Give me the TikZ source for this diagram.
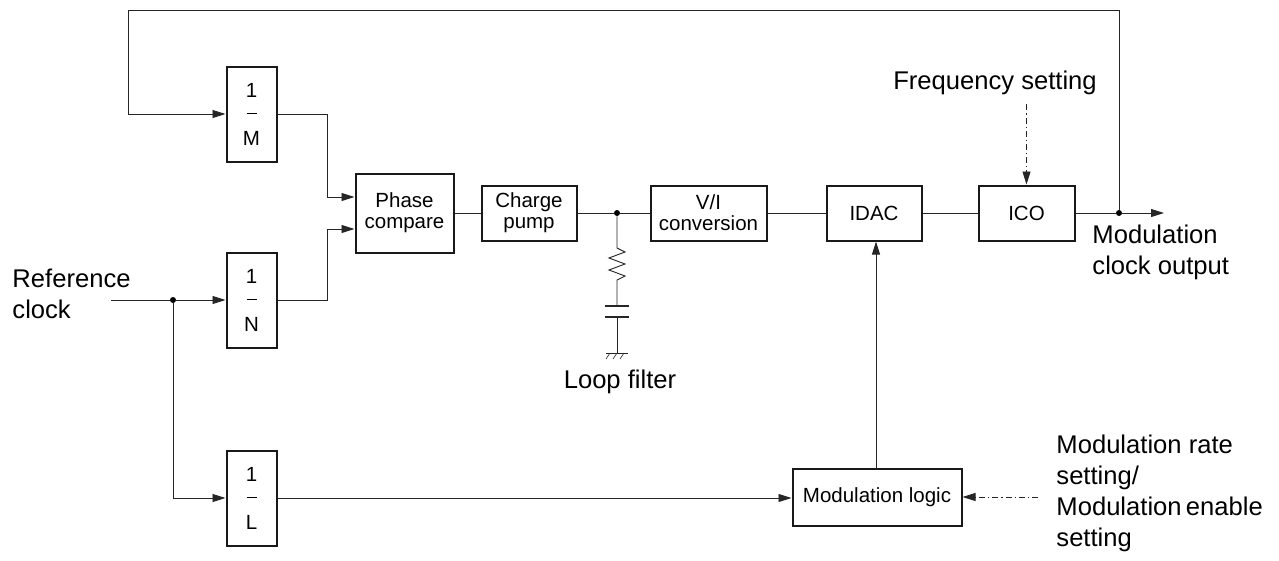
\documentclass[tikz,border=0pt]{standalone}
\usepackage{fontspec}
\setmainfont{Liberation Sans}
\usetikzlibrary{arrows.meta}
\newcommand{\divby}[1]{1\\\rule[7pt]{10pt}{0.9pt}\\#1}
\begin{document}
\begin{tikzpicture}[x=1pt,y=-1pt,line width=0.9pt,draw=black!85,
	block/.style={draw=black!90, line width=2pt, inner sep=0pt, align=center, font=\fontsize{20.5}{21}\selectfont},
	divider/.style={block, minimum width=50pt, minimum height=95pt, font=\fontsize{20.5}{24}\selectfont},
	label/.style={inner sep=0pt, align=left, font=\fontsize{25.6}{31}\selectfont},
	arr/.style={-{Triangle[length=13pt,width=8pt]}},
	dashdot/.style={dash pattern=on 6pt off 3pt on 1.2pt off 3pt},
	dot/.style={circle, fill=black, inner sep=0pt, minimum size=6pt}]
	\useasboundingbox (0,0) rectangle (1279,560);
	% dividers
	\node (M) at (251.5, 114)	[divider]	{\divby{M}};
	\node (N) at (251.5, 300)	[divider]	{\divby{N}};
	\node (L) at (251.5, 498)	[divider]	{\divby{L}};
	% main loop
	\node (PC) at (404.5, 213)	[block, minimum width=98pt, minimum height=79pt]	{Phase\\compare};
	\node (CP) at (529, 213)	[block, minimum width=95pt, minimum height=55pt]	{Charge\\pump};
	\node (VI) at (708.5, 213)	[block, minimum width=116pt, minimum height=55pt]	{V/I\\conversion};
	\node (IDAC) at (874, 213)	[block, minimum width=95pt, minimum height=55pt]	{IDAC};
	\node (ICO) at (1026.5, 213)	[block, minimum width=96pt, minimum height=55pt]	{ICO};
	\node (ML) at (877, 497)	[block, minimum width=169pt, minimum height=57pt]	{Modulation logic};
	% labels
	\node (RC) at (12, 294)	[label, anchor=west]	{Reference\\clock};
	\node (FS) at (995, 83)	[label]	{Frequency setting};
	\node (MO) at (1092, 252)	[label, anchor=west]	{Modulation\\clock output};
	\node (MR) at (1056, 493)	[label, anchor=west]	{Modulation rate\\setting/\\Modulation\,enable\\setting};
	\node (LF) at (620, 382)	[label]	{Loop filter};
	% junctions
	\coordinate (refin) at (111, 300);
	\node (rj) at (173, 300)	[dot]	{};
	\node (lj) at (617, 213)	[dot]	{};
	\node (oj) at (1119, 213)	[dot]	{};
	\coordinate (outend) at (1164, 213);
	\coordinate (fbk) at (128, 10);
	\coordinate (mrin) at (1038, 497);
	% connectors
	\draw[arr] (oj) |- (fbk) |- (M.west);
	\draw[arr] (M.east) -- ++(50,0) |- ([yshift=16pt]PC.west);
	\draw[arr] (N.east) -- ++(50,0) |- ([yshift=-16pt]PC.west);
	\draw (refin) -- (rj);
	\draw[arr] (rj) -- (N.west);
	\draw[arr] (rj) |- (L.west);
	\draw[arr] (L.east) -- (L.east -| ML.west);
	\draw (PC) -- (CP);
	\draw (CP) -- (lj);
	\draw (lj) -- (VI);
	\draw (VI) -- (IDAC);
	\draw (IDAC) -- (ICO);
	\draw (ICO) -- (oj);
	\draw[arr] (oj) -- (outend);
	\draw[arr] (ML.north -| 876,0) -- (IDAC.south -| 876,0);
	\draw[arr, dashdot] ([yshift=-9pt]FS.south -| ICO.north) -- (ICO.north);
	\draw[arr, dashdot] (mrin) -- (ML.east);
	% loop filter
	\draw (lj) -- (617, 248) -- (625, 252) -- (609, 258) -- (625, 264) -- (609, 270) -- (625, 276) -- (617, 280) -- (617, 306);
	\draw[line width=2pt] (605, 306) -- (629, 306);
	\draw[line width=2pt] (605, 317) -- (629, 317);
	\draw (617, 317) -- (617, 353);
	\draw (606, 353) -- (628, 353);
	\foreach \hx in {610, 617, 624}
		\draw[line width=0.6pt] (\hx, 353) -- ++(-4, 6);
\end{tikzpicture}
\end{document}
